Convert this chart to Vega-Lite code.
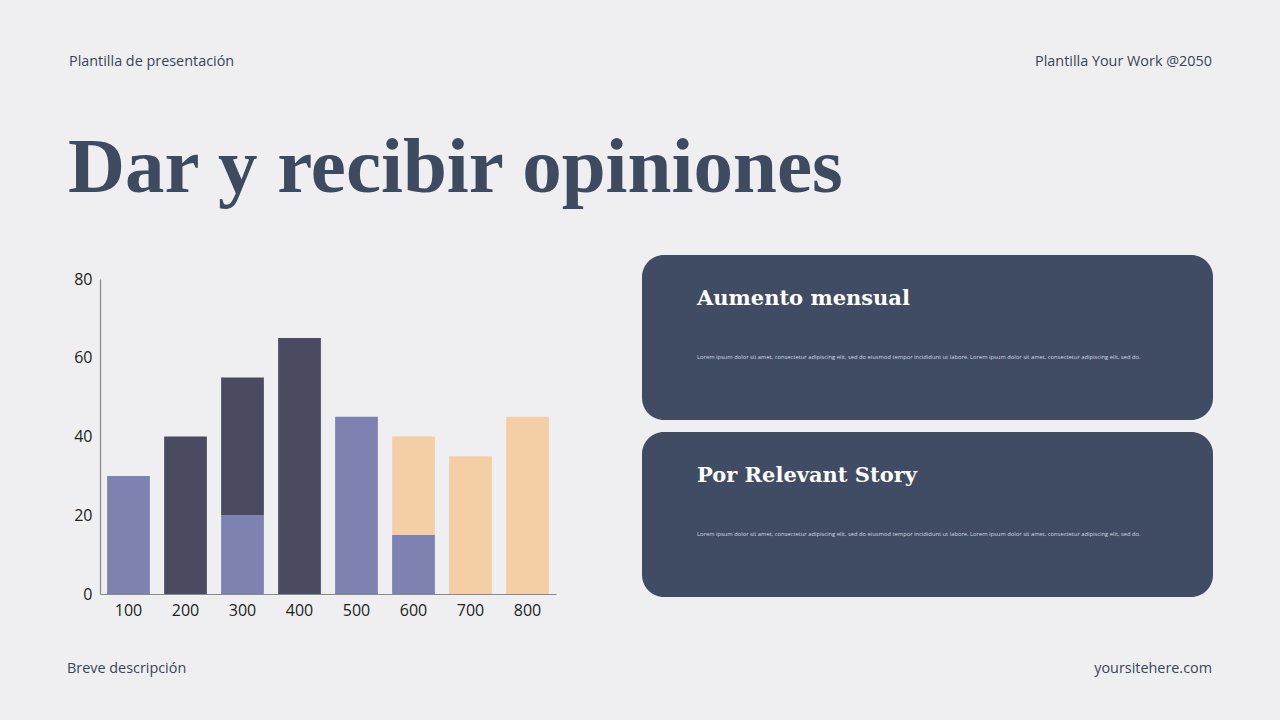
{
  "$schema": "https://vega.github.io/schema/vega-lite/v6.json",
  "width": 1280,
  "height": 720,
  "autosize": {"type": "none"},
  "padding": 0,
  "background": "#efeff1",
  "config": {"view": {"stroke": null}, "font": "Open Sans"},
  "resolve": {"scale": {"x": "independent", "y": "independent", "color": "independent"}, "axis": {"x": "independent", "y": "independent"}},
  "layer": [
    {
      "data": {"values": [
        {"cat": "100", "series": "A", "ord": 1, "value": 30},
        {"cat": "200", "series": "B", "ord": 2, "value": 40},
        {"cat": "300", "series": "A", "ord": 1, "value": 20},
        {"cat": "300", "series": "B", "ord": 2, "value": 35},
        {"cat": "400", "series": "B", "ord": 2, "value": 65},
        {"cat": "500", "series": "A", "ord": 1, "value": 45},
        {"cat": "600", "series": "A", "ord": 1, "value": 15},
        {"cat": "600", "series": "C", "ord": 3, "value": 25},
        {"cat": "700", "series": "C", "ord": 3, "value": 35},
        {"cat": "800", "series": "C", "ord": 3, "value": 45}
      ]},
      "mark": {"type": "bar"},
      "encoding": {
        "x": {"field": "cat", "type": "nominal", "sort": null,
          "scale": {"range": [100, 556], "paddingInner": 0.25, "paddingOuter": 0.125},
          "axis": {"title": null, "offset": -126, "labelAngle": 0, "labelFontSize": 16, "labelColor": "#222222", "labelFont": "Open Sans", "ticks": false, "labelPadding": 8, "domainColor": "#8a8a8a", "domainWidth": 1.2}},
        "y": {"field": "value", "type": "quantitative", "aggregate": "sum", "stack": "zero",
          "scale": {"domain": [0, 80], "range": [594, 279], "nice": false},
          "axis": {"title": null, "offset": -100, "values": [0, 20, 40, 60, 80], "grid": false, "ticks": false, "labelFontSize": 16, "labelColor": "#222222", "labelFont": "Open Sans", "labelPadding": 8, "domainColor": "#8a8a8a", "domainWidth": 1.2}},
        "color": {"field": "series", "type": "nominal",
          "scale": {"domain": ["A", "B", "C"], "range": ["#7d82b1", "#4a4b60", "#f4cfa6"]},
          "legend": null},
        "order": {"field": "ord", "type": "quantitative"}
      }
    },
    {
      "data": {"values": [
        {"card": "1", "title": "Aumento mensual", "body": "Lorem ipsum dolor sit amet, consectetur adipiscing elit, sed do eiusmod tempor incididunt ut labore. Lorem ipsum dolor sit amet, consectetur adipiscing elit, sed do."},
        {"card": "2", "title": "Por Relevant Story", "body": "Lorem ipsum dolor sit amet, consectetur adipiscing elit, sed do eiusmod tempor incididunt ut labore. Lorem ipsum dolor sit amet, consectetur adipiscing elit, sed do."}
      ]},
      "encoding": {
        "y": {"field": "card", "type": "nominal", "bandPosition": 0,
          "scale": {"range": [255, 597], "paddingInner": 0.0678, "paddingOuter": 0},
          "axis": null}
      },
      "layer": [
        {
          "mark": {"type": "rect", "cornerRadius": 22, "color": "#3f4c63"},
          "encoding": {
            "y": {"field": "card", "type": "nominal", "scale": {"range": [255, 597], "paddingInner": 0.0678, "paddingOuter": 0}, "axis": null},
            "x": {"value": 642},
            "x2": {"value": 1213}
          }
        },
        {
          "mark": {"type": "text", "font": "DejaVu Serif", "fontWeight": "bold", "fontSize": 21, "color": "#ffffff", "align": "left", "baseline": "alphabetic", "dy": 50},
          "encoding": {
            "x": {"value": 697},
            "text": {"field": "title"}
          }
        },
        {
          "mark": {"type": "text", "font": "Open Sans", "fontSize": 5.8, "color": "#d5d9e2", "align": "left", "baseline": "middle", "dy": 102},
          "encoding": {
            "x": {"value": 697},
            "text": {"field": "body"}
          }
        }
      ]
    },
    {
      "data": {"values": [{}]},
      "layer": [
        {"mark": {"type": "text", "text": "Plantilla de presentación", "font": "Open Sans", "fontSize": 14.4, "color": "#3b4457", "align": "left", "baseline": "middle"},
         "encoding": {"x": {"value": 69}, "y": {"value": 62}}},
        {"mark": {"type": "text", "text": "Plantilla Your Work @2050", "font": "Open Sans", "fontSize": 14.4, "color": "#3b4457", "align": "right", "baseline": "middle"},
         "encoding": {"x": {"value": 1212}, "y": {"value": 62}}},
        {"mark": {"type": "text", "text": "Dar y recibir opiniones", "font": "Liberation Serif", "fontWeight": "bold", "fontSize": 79, "color": "#3d4a60", "align": "left", "baseline": "alphabetic"},
         "encoding": {"x": {"value": 68}, "y": {"value": 192}}},
        {"mark": {"type": "text", "text": "Breve descripción", "font": "Open Sans", "fontSize": 14.4, "color": "#3b4457", "align": "left", "baseline": "middle"},
         "encoding": {"x": {"value": 67}, "y": {"value": 669}}},
        {"mark": {"type": "text", "text": "yoursitehere.com", "font": "Open Sans", "fontSize": 14.4, "color": "#3b4457", "align": "right", "baseline": "middle"},
         "encoding": {"x": {"value": 1212}, "y": {"value": 669}}}
      ]
    }
  ]
}
